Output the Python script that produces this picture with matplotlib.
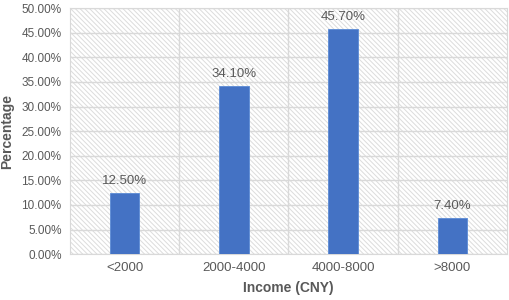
import matplotlib.pyplot as plt
from matplotlib.patches import Rectangle
from matplotlib.ticker import FuncFormatter

categories = ['<2000', '2000-4000', '4000-8000', '>8000']
values = [12.5, 34.1, 45.7, 7.4]
yticks = [0, 5, 10, 15, 20, 25, 30, 35, 40, 45, 50]

plt.rcParams['font.family'] = ['Liberation Sans', 'DejaVu Sans']
plt.rcParams['hatch.linewidth'] = 0.7
txt = '#595959'
grid = '#d9d9d9'

fig = plt.figure(figsize=(5.1, 3.0), dpi=100)
ax = fig.add_axes([0.137, 0.153, 0.857, 0.82])

# hatched background of the plot area
ax.add_patch(Rectangle((0, 0), 1, 1, transform=ax.transAxes, fill=False,
                       hatch='\\' * 7, edgecolor='#dcdcdc', lw=0, zorder=0))

x = range(len(categories))
ax.bar(x, values, width=0.27, color='#4472C4', edgecolor='#5b8bd6', lw=0.6, zorder=3)
for xi, v in zip(x, values):
    ax.text(xi, v + 1.2, '%.2f%%' % v, ha='center', va='bottom', fontsize=9.5, color=txt)

ax.set_xlim(-0.5, 3.5)
ax.set_ylim(0, 50)
ax.set_yticks(yticks)
ax.yaxis.set_major_formatter(FuncFormatter(lambda v, p: '%.2f%%' % v))
ax.set_xticks(list(x))
ax.set_xticklabels(categories)
ax.set_xticks([0.5, 1.5, 2.5], minor=True)

ax.grid(axis='y', color=grid, lw=1, zorder=1)
ax.grid(axis='x', which='minor', color=grid, lw=1, zorder=1)
ax.tick_params(which='both', length=0, labelsize=8.5, colors=txt, pad=6)
ax.tick_params(axis='x', labelsize=9.5)
for s in ax.spines.values():
    s.set_color(grid)

ax.set_xlabel('Income (CNY)', fontsize=10, color=txt, fontweight='bold', labelpad=5)
ax.set_ylabel('Percentage', fontsize=10, color=txt, fontweight='bold', labelpad=5)

plt.savefig('out.png', dpi=100)
